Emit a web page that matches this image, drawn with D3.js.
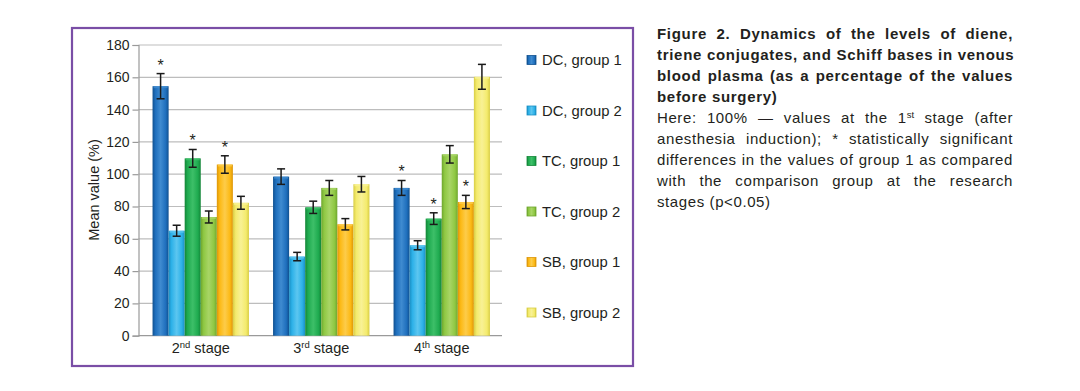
<!DOCTYPE html>
<html>
<head>
<meta charset="utf-8">
<script src="https://cdn.jsdelivr.net/npm/d3@7"></script>
<style>
  html, body { margin: 0; padding: 0; background: #fff; }
  body { width: 1080px; height: 391px; position: relative; overflow: hidden; font-family: "Liberation Sans", Arial, sans-serif; }
  svg { position: absolute; left: 0; top: 0; }
  #caption { position: absolute; left: 657px; top: 23px; width: 356px; font-size: 15px; line-height: 21px; color: #231f20; letter-spacing: 0.6px; }
  #caption .l { text-align: justify; text-align-last: justify; white-space: nowrap; }
  #caption .last { text-align: left; text-align-last: left; }
  #caption .b { font-weight: bold; letter-spacing: 0.7px; }
  #caption sup { font-size: 9.5px; line-height: 0; vertical-align: 5px; letter-spacing: 0; }
</style>
</head>
<body>
<svg id="chart" width="1080" height="391"></svg>
<div id="caption"></div>
<script>
// ---------- data ----------
const stages = ["2", "3", "4"];
const stageSup = ["nd", "rd", "th"];
const seriesNames = ["DC, group 1", "DC, group 2", "TC, group 1", "TC, group 2", "SB, group 1", "SB, group 2"];
const dcGroup1 = [154.5, 98.5, 91.5];
const dcGroup2 = [65, 49, 56];
const tcGroup1 = [109.8, 79.5, 72.5];
const tcGroup2 = [73.5, 91.5, 112.3];
const sbGroup1 = [106, 69, 82.8];
const sbGroup2 = [82.3, 93.8, 160.3];
const dcGroup1Err = [7.8, 4.8, 4.6];
const dcGroup2Err = [3.4, 2.6, 2.8];
const tcGroup1Err = [5.5, 3.8, 3.6];
const tcGroup2Err = [3.7, 4.6, 5.4];
const sbGroup1Err = [5.4, 3.5, 4.1];
const sbGroup2Err = [4.0, 4.8, 7.7];
// significance markers (*) per series per stage
const dcGroup1Sig = [true, false, true];
const tcGroup1Sig = [true, false, true];
const sbGroup1Sig = [true, false, true];
const yTicks = [0, 20, 40, 60, 80, 100, 120, 140, 160, 180];
const yTitle = "Mean value (%)";

const seriesValues = [dcGroup1, dcGroup2, tcGroup1, tcGroup2, sbGroup1, sbGroup2];
const seriesErrors = [dcGroup1Err, dcGroup2Err, tcGroup1Err, tcGroup2Err, sbGroup1Err, sbGroup2Err];
const seriesSig = [dcGroup1Sig, null, tcGroup1Sig, null, sbGroup1Sig, null];

// styles
const colors = [
  { mid: "#1f6fbd", edge: "#10508f", light: "#3f8bd0" },
  { mid: "#2db1e8", edge: "#1a8fc4", light: "#5cc6f0" },
  { mid: "#1fab50", edge: "#138537", light: "#3dbf68" },
  { mid: "#8fc843", edge: "#6ea62e", light: "#a8d566" },
  { mid: "#fcb914", edge: "#dd9608", light: "#fdcc4a" },
  { mid: "#f4eb6d", edge: "#d8cd45", light: "#f8f195" }
];
const FONT = "'Liberation Sans', Arial, sans-serif";

const svg = d3.select("#chart");
const defs = svg.append("defs");
colors.forEach((c, i) => {
  const g = defs.append("linearGradient").attr("id", "grad" + i)
    .attr("x1", "0%").attr("x2", "100%").attr("y1", "0%").attr("y2", "0%");
  g.append("stop").attr("offset", "0%").attr("stop-color", c.edge);
  g.append("stop").attr("offset", "18%").attr("stop-color", c.mid);
  g.append("stop").attr("offset", "50%").attr("stop-color", c.light);
  g.append("stop").attr("offset", "82%").attr("stop-color", c.mid);
  g.append("stop").attr("offset", "100%").attr("stop-color", c.edge);
});

// frame
svg.append("rect").attr("x", 72).attr("y", 28).attr("width", 561).attr("height", 338)
  .attr("fill", "none").attr("stroke", "#7a4ea6").attr("stroke-width", 2.2);

const plotLeft = 138.5, plotRight = 502, plotTop = 45, plotBottom = 335.7;
const y = d3.scaleLinear().domain([0, 180]).range([plotBottom, plotTop]);
const x0 = d3.scaleBand().domain(stages).range([plotLeft + 2, plotRight]).paddingInner(0.2).paddingOuter(0.1);
const x1 = d3.scaleBand().domain(d3.range(seriesNames.length)).range([0, x0.bandwidth()]);

// gridlines
svg.append("g").selectAll("line").data(yTicks.filter(t => t > 0)).join("line")
  .attr("x1", plotLeft).attr("x2", plotRight)
  .attr("y1", d => y(d)).attr("y2", d => y(d))
  .attr("stroke", "#bdbdbd").attr("stroke-width", 1.2);

// y axis
const yAxis = svg.append("g").attr("transform", `translate(${plotLeft},0)`)
  .call(d3.axisLeft(y).tickValues(yTicks).tickSize(6).tickPadding(3));
yAxis.select(".domain").attr("stroke", "#9a9a9a").attr("stroke-width", 1.2);
yAxis.selectAll(".tick line").attr("stroke", "#9a9a9a").attr("stroke-width", 1.2);
yAxis.selectAll(".tick text").attr("font-family", FONT)
  .attr("font-size", 14).attr("fill", "#231f20");

// x axis line
svg.append("line").attr("x1", plotLeft).attr("x2", plotRight).attr("y1", plotBottom).attr("y2", plotBottom)
  .attr("stroke", "#9a9a9a").attr("stroke-width", 1.2);

// bars
const groups = svg.append("g").selectAll("g").data(stages).join("g")
  .attr("transform", d => `translate(${x0(d)},0)`);

groups.each(function(stage, si) {
  const g = d3.select(this);
  seriesValues.forEach((vals, k) => {
    const v = vals[si], e = seriesErrors[k][si];
    const bx = x1(k), bw = x1.bandwidth();
    g.append("rect").attr("x", bx).attr("y", y(v)).attr("width", bw).attr("height", plotBottom - y(v))
      .attr("fill", `url(#grad${k})`);
    g.append("rect").attr("x", bx + 1).attr("y", y(v)).attr("width", bw - 2).attr("height", 2)
      .attr("fill", colors[k].light).attr("opacity", 0.8);
    const cx = bx + bw / 2;
    const eb = g.append("g").attr("stroke", "#1a1a1a").attr("stroke-width", 1.5);
    eb.append("line").attr("x1", cx).attr("x2", cx).attr("y1", y(v + e)).attr("y2", y(v - e));
    eb.append("line").attr("x1", cx - 4).attr("x2", cx + 4).attr("y1", y(v + e)).attr("y2", y(v + e));
    eb.append("line").attr("x1", cx - 4).attr("x2", cx + 4).attr("y1", y(v - e)).attr("y2", y(v - e));
    const sig = seriesSig[k];
    if (sig && sig[si]) {
      g.append("text").attr("x", cx).attr("y", y(v + e) - 3).attr("text-anchor", "middle")
        .attr("font-family", FONT).attr("font-size", 16)
        .attr("fill", "#231f20").text("*");
    }
  });
});

// x labels
const xl = svg.append("g").selectAll("text").data(stages).join("text")
  .attr("x", d => x0(d) + x0.bandwidth() / 2).attr("y", 353)
  .attr("text-anchor", "middle")
  .attr("font-family", FONT).attr("font-size", 14.5).attr("fill", "#231f20");
xl.append("tspan").text(d => d);
xl.append("tspan").attr("font-size", 9.5).attr("dy", -5).text((d, i) => stageSup[i]);
xl.append("tspan").attr("dy", 5).text(" stage");

// y title
svg.append("text").attr("transform", "translate(99,190) rotate(-90)").attr("text-anchor", "middle")
  .attr("font-family", FONT).attr("font-size", 14.5).attr("fill", "#231f20")
  .text(yTitle);

// legend
const leg = svg.append("g").selectAll("g").data(seriesNames).join("g")
  .attr("transform", (d, i) => `translate(527,${60 + i * 50.5})`);
leg.append("rect").attr("x", 0).attr("y", -4.5).attr("width", 9).attr("height", 9)
  .attr("fill", (d, i) => `url(#grad${i})`).attr("stroke", (d, i) => colors[i].edge).attr("stroke-width", 0.8);
leg.append("text").attr("x", 15).attr("y", 5).attr("font-family", FONT)
  .attr("font-size", 14.8).attr("fill", "#231f20").text(d => d);

// caption
const captionLines = [
  { t: "Figure 2. Dynamics of the levels of diene,", b: true },
  { t: "triene conjugates, and Schiff bases in venous", b: true },
  { t: "blood plasma (as a percentage of the values", b: true },
  { t: "before surgery)", b: true, last: true },
  { t: "Here: 100% — values at the 1<sup>st</sup> stage (after", b: false },
  { t: "anesthesia induction); * statistically significant", b: false },
  { t: "differences in the values of group 1 as compared", b: false },
  { t: "with the comparison group at the research", b: false },
  { t: "stages (p<0.05)", b: false, last: true, plain: true }
];
const cap = d3.select("#caption");
captionLines.forEach(l => {
  const d = cap.append("div").attr("class", "l" + (l.b ? " b" : "") + (l.last ? " last" : ""));
  if (l.plain) d.text(l.t); else d.html(l.t);
});
</script>
</body>
</html>
